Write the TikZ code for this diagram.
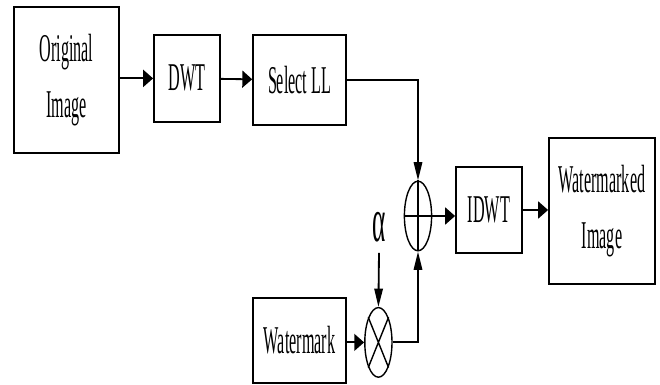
\documentclass[tikz,border=0pt]{standalone}
\usepackage{fontspec}
\setmainfont{Liberation Serif}[FakeStretch=0.41]
\usetikzlibrary{arrows.meta, shapes.geometric}

\tikzset{
  block/.style={draw, line width=1.3pt, align=center, inner sep=0pt,
    font=\fontsize{28}{40}\selectfont},
  junction/.style={draw, ellipse, line width=1pt, inner sep=0pt,
    minimum width=0.68cm, minimum height=1.74cm},
  hflow/.style={line width=1.3pt, -{Triangle[length=7pt,width=12pt]}},
  vflow/.style={line width=1.3pt, -{Triangle[length=13pt,width=6pt]}}
}

\begin{document}
\begin{tikzpicture}
\useasboundingbox (0,0) rectangle (16.5,-9.625);

% centres of the blocks
\coordinate (O) at (1.66,-2.0);
\coordinate (D) at (4.675,-1.96);
\coordinate (S) at (7.49,-2.0);
\coordinate (P) at (10.45,-5.4);
\coordinate (I) at (12.225,-5.25);
\coordinate (R) at (15.05,-5.275);
\coordinate (M) at (9.46,-8.56);
\coordinate (W) at (7.49,-8.51);

% blocks
\node[block, minimum width=2.625cm, minimum height=3.65cm] (orig) at (O) {Original\\Image};
\node[block, minimum width=1.65cm, minimum height=2.175cm] (dwt) at (D) {DWT};
\node[block, minimum width=2.325cm, minimum height=2.25cm] (sel) at (S) {Select LL};
\node[block, minimum width=1.65cm, minimum height=2.15cm] (idwt) at (I) {IDWT};
\node[block, minimum width=2.65cm, minimum height=3.65cm] (out) at (R) {Watermarked\\Image};
\node[block, minimum width=2.325cm, minimum height=2.125cm] (wm) at (W) {Watermark};

% adder and multiplier
\node[junction] (add) at (P) {};
\draw[line width=1pt] (add.north) -- (add.south) (add.west) -- (add.east);
\node[junction] (mul) at (M) {};
\draw[line width=1pt] (mul.north west) -- (mul.south east) (mul.north east) -- (mul.south west);

% gain
\node[font=\fontsize{44}{46}\selectfont, inner sep=0pt, anchor=base] (alpha) at (9.475,-6.05) {α};

% connections
\draw[hflow] (orig.east |- dwt) -- (dwt);
\draw[hflow] (dwt) -- (sel);
\draw[vflow] (sel.east) -| (add.north);
\draw[hflow] (add) -- (idwt.west |- add);
\draw[hflow] (idwt) -- (out.west |- idwt);
\draw[vflow] ([yshift=-0.25cm]alpha.south) -- (mul.north);
\draw[hflow] (wm.east |- mul) -- (mul);
\draw[vflow] (mul) -| (add.south);

\end{tikzpicture}
\end{document}
